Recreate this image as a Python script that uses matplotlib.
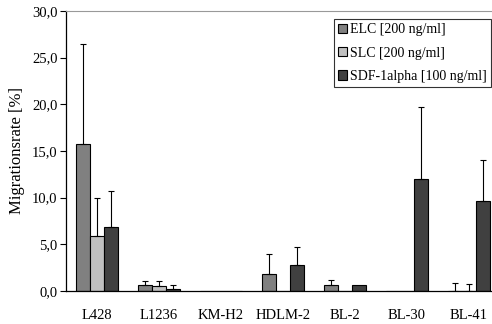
import matplotlib
matplotlib.use('Agg')
import matplotlib.pyplot as plt
import numpy as np

# -----------------------------------------------------
# data
# -----------------------------------------------------

cell_lines = ['L428', 'L1236', 'KM-H2', 'HDLM-2', 'BL-2', 'BL-30', 'BL-41']
series = ['ELC [200 ng/ml]', 'SLC [200 ng/ml]', 'SDF-1alpha [100 ng/ml]']

elc = [15.7, 0.6, 0.0, 1.8, 0.6, 0.0, 0.0]
elc_err = [10.8, 0.45, 0.0, 2.2, 0.6, 0.0, 0.9]
slc = [5.9, 0.5, 0.0, 0.0, 0.0, 0.0, 0.0]
slc_err = [4.1, 0.6, 0.0, 0.0, 0.0, 0.0, 0.8]
sdf = [6.9, 0.2, 0.0, 2.8, 0.6, 12.0, 9.6]
sdf_err = [3.8, 0.45, 0.0, 1.95, 0.0, 7.75, 4.4]

colors = ['#808080', '#c0c0c0', '#404040']

# -----------------------------------------------------
# plot
# -----------------------------------------------------

plt.rcParams['font.family'] = ['Liberation Serif', 'DejaVu Serif']

fig = plt.figure(figsize=(4.92, 3.24), dpi=100)
# axis runs slightly past the right edge like in the original
ax = fig.add_axes([66 / 492, 33 / 324, 434 / 492, 280 / 324])

x = np.arange(len(cell_lines))
w = 0.226
vals = [elc, slc, sdf]
errs = [elc_err, slc_err, sdf_err]
for i in range(3):
    pos = x + (i - 1) * w
    ax.bar(pos, vals[i], width=w, color=colors[i], edgecolor='black',
           linewidth=0.8, label=series[i], zorder=2)
    e = np.array(errs[i])
    m = e > 0
    ax.errorbar(pos[m], np.array(vals[i])[m], yerr=[np.zeros(m.sum()), e[m]],
                fmt='none', ecolor='black', elinewidth=0.8, capsize=2.5,
                capthick=0.8, zorder=3)

ax.set_xlim(-0.5, len(cell_lines) - 0.5)
ax.set_ylim(0, 30)
ax.set_yticks(np.arange(0, 31, 5))
ax.set_yticklabels([('%.1f' % v).replace('.', ',') for v in np.arange(0, 31, 5)],
                   fontsize=10.5)
ax.set_xticks(x)
ax.set_xticklabels(cell_lines, fontsize=10.5)
ax.tick_params(axis='x', length=0, pad=13)
ax.tick_params(axis='y', length=4, width=0.8, pad=2)
ax.set_ylabel('Migrationsrate [%]', fontsize=12, labelpad=5)

ax.spines['right'].set_visible(False)
ax.spines['top'].set_color('#999999')
ax.spines['left'].set_linewidth(0.9)
ax.spines['bottom'].set_linewidth(0.9)

leg = ax.legend(loc='upper right', bbox_to_anchor=(491 / 492, 1 - 19 / 324),
                bbox_transform=fig.transFigure, fontsize=10, frameon=True,
                fancybox=False, handlelength=0.65, handleheight=0.65,
                handletextpad=0.2, borderpad=0.3, labelspacing=0.75,
                borderaxespad=0)
leg.get_frame().set_edgecolor('black')
leg.get_frame().set_linewidth(0.8)

fig.savefig('out.png', dpi=100)
